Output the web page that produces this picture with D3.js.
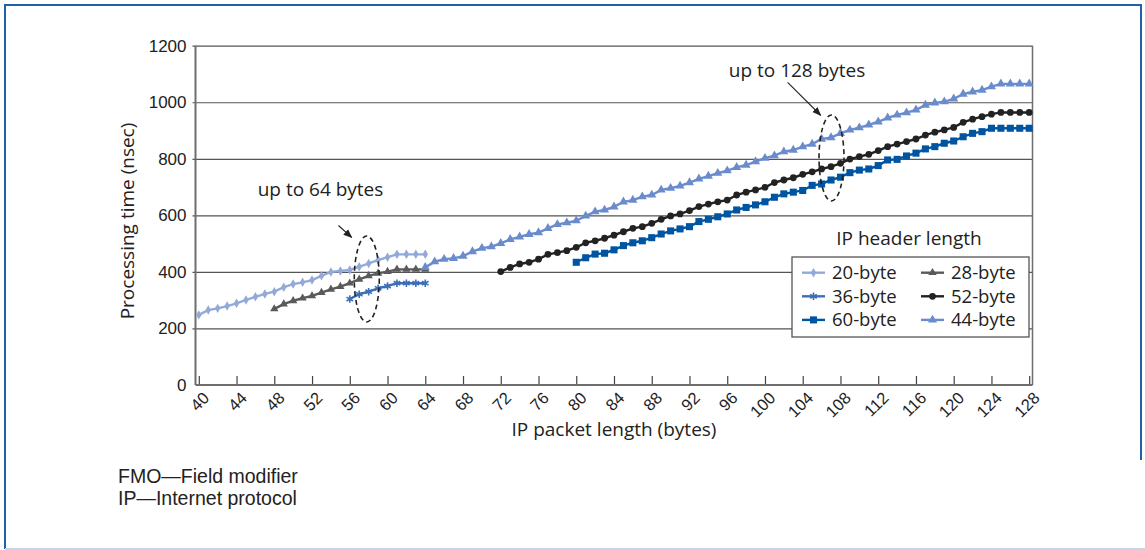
<!DOCTYPE html>
<html>
<head>
<meta charset="utf-8">
<script src="https://cdn.jsdelivr.net/npm/d3@7"></script>
<style>
  body { margin: 0; background: #fff; }
  svg { display: block; font-family: "Open Sans", sans-serif; }
  text { fill: #222; }
</style>
</head>
<body>
<svg id="chart" width="1145" height="550"></svg>
<script>
//============================================================
// Data: processing time (nsec), one value per byte of IP packet length
//------------------------------------------------------------

var xTicks = [40, 44, 48, 52, 56, 60, 64, 68, 72, 76, 80, 84, 88, 92, 96, 100, 104, 108, 112, 116, 120, 124, 128];
var yTicks = [0, 200, 400, 600, 800, 1000, 1200];

var start20 = 40;
var time20 = [248, 265, 271, 279, 289, 301, 312, 322, 330, 346,
              357, 363, 371, 386, 400, 403, 407, 418, 430, 442,
              452, 462, 462, 462, 462];

var start28 = 48;
var time28 = [269, 286, 298, 307, 315, 327, 338, 348, 360, 374,
              386, 395, 401, 409, 409, 409, 409];

var start36 = 56;
var time36 = [304, 321, 330, 342, 350, 360, 360, 360, 360];

var start44 = 64;
var time44 = [416, 436, 445, 448, 456, 472, 484, 489, 501, 515,
              524, 533, 539, 554, 568, 574, 581, 598, 613, 619,
              630, 648, 654, 666, 672, 690, 696, 704, 716, 729,
              739, 749, 758, 770, 778, 790, 802, 811, 825, 831,
              843, 852, 870, 875, 890, 902, 910, 920, 931, 945,
              955, 963, 973, 990, 998, 1002, 1012, 1029, 1037, 1043,
              1055, 1065, 1065, 1065, 1065];

var start52 = 72;
var time52 = [401, 416, 428, 434, 445, 462, 468, 475, 487, 503,
              510, 519, 530, 542, 554, 560, 572, 586, 598, 605,
              617, 631, 640, 648, 654, 672, 682, 690, 699, 716,
              725, 733, 745, 754, 764, 772, 784, 799, 808, 816,
              829, 843, 852, 861, 870, 884, 894, 902, 911, 929,
              940, 949, 958, 964, 964, 964, 964];

var start60 = 80;
var time60 = [434, 450, 463, 466, 478, 493, 503, 510, 521, 534,
              545, 552, 560, 578, 586, 595, 605, 619, 628, 637,
              648, 664, 676, 682, 688, 706, 711, 725, 735, 751,
              760, 764, 776, 796, 798, 810, 820, 835, 843, 855,
              863, 878, 890, 896, 908, 908, 908, 908, 908];

var legendOrder = ['20-byte', '28-byte', '36-byte', '52-byte', '60-byte', '44-byte'];

var footnotes = ['FMO\u2014Field modifier', 'IP\u2014Internet protocol'];

//============================================================
// Settings
//------------------------------------------------------------

var margin = {top: 45.7, right: 112.5, bottom: 165, left: 195.5}
  , width = 1145
  , height = 550
  , plotW = width - margin.left - margin.right
  , plotH = height - margin.top - margin.bottom
  , textSize = '19px'
  ;

var series = [
    {key: '20-byte', start: start20, values: time20, color: '#93aad9', symbol: d3.symbolDiamond, size: 26},
    {key: '28-byte', start: start28, values: time28, color: '#5a5a5a', symbol: d3.symbolTriangle, size: 30},
    {key: '36-byte', start: start36, values: time36, color: '#3b6eb6', symbol: d3.symbolAsterisk || d3.symbolCross, size: 40, stroked: true},
    {key: '44-byte', start: start44, values: time44, color: '#6a8ccc', symbol: d3.symbolTriangle, size: 36},
    {key: '52-byte', start: start52, values: time52, color: '#222222', symbol: d3.symbolCircle, size: 36},
    {key: '60-byte', start: start60, values: time60, color: '#0055a2', symbol: d3.symbolSquare, size: 50}
];

series.forEach(function (s) {
    s.points = s.values.map(function (v, i) {
        return {len: s.start + i, time: v};
    });
});

var x = d3.scaleLinear().domain([39.65, 128.35]).range([0, plotW]);
var y = d3.scaleLinear().domain([0, 1200]).range([plotH, 0]);

var svg = d3.select('#chart');

//------------------------------------------------------------
// Figure frame

svg.append('line').attr('x1', 5).attr('x2', 1141).attr('y1', 5).attr('y2', 5)
  .style('stroke', '#1f5fab').style('stroke-width', 2);
svg.append('line').attr('x1', 5).attr('x2', 5).attr('y1', 4).attr('y2', 549)
  .style('stroke', '#1f5fab').style('stroke-width', 2);
svg.append('line').attr('x1', 1141).attr('x2', 1141).attr('y1', 4).attr('y2', 460)
  .style('stroke', '#1f5fab').style('stroke-width', 2);
svg.append('line').attr('x1', 5).attr('x2', 1145).attr('y1', 549).attr('y2', 549)
  .style('stroke', '#c9d3e3').style('stroke-width', 2);

var g = svg.append('g')
  .attr('transform', 'translate(' + margin.left + ',' + margin.top + ')');

//------------------------------------------------------------
// Axes and grid

var yAxis = g.append('g')
  .call(d3.axisLeft(y).tickValues(yTicks).tickFormat(d3.format('d')).tickSize(-plotW).tickPadding(9));
yAxis.select('.domain').remove();
yAxis.selectAll('.tick line')
  .attr('x1', -3)
  .style('stroke', function (d) { return d === 0 ? 'none' : '#555'; })
  .style('stroke-width', 1.2);
yAxis.selectAll('.tick text')
  .style('font-size', '17px')
  .style('fill', '#222');

var xAxis = g.append('g')
  .attr('transform', 'translate(0,' + plotH + ')')
  .call(d3.axisBottom(x).tickValues(xTicks).tickSizeInner(-9).tickSizeOuter(0));
xAxis.select('.domain').remove();
xAxis.selectAll('.tick line').style('stroke', '#444').style('stroke-width', 1.2);
xAxis.selectAll('.tick text')
  .attr('x', 0).attr('y', 0).attr('dy', 0)
  .attr('text-anchor', 'end')
  .attr('transform', 'translate(11,14) rotate(-45)')
  .style('font-size', '16.5px')
  .style('fill', '#222');

// axis lines and plot border
g.append('line').attr('x1', 0).attr('x2', 0).attr('y1', 0).attr('y2', plotH)
  .style('stroke', '#6e6e6e').style('stroke-width', 2);
g.append('line').attr('x1', 0).attr('x2', plotW).attr('y1', plotH).attr('y2', plotH)
  .style('stroke', '#6e6e6e').style('stroke-width', 2);
g.append('line').attr('x1', plotW).attr('x2', plotW).attr('y1', 0).attr('y2', plotH)
  .style('stroke', '#6e6e6e').style('stroke-width', 1.5);

//------------------------------------------------------------
// Series

var line = d3.line()
  .x(function (d) { return x(d.len); })
  .y(function (d) { return y(d.time); });

var seriesG = g.selectAll('g.series').data(series).enter().append('g').attr('class', 'series');

seriesG.append('path')
  .attr('d', function (d) { return line(d.points); })
  .style('fill', 'none')
  .style('stroke', function (d) { return d.color; })
  .style('stroke-width', 2.4);

seriesG.each(function (s) {
    var sym = d3.symbol().type(s.symbol).size(s.size);
    d3.select(this).selectAll('path.pt').data(s.points).enter().append('path')
      .attr('class', 'pt')
      .attr('d', sym)
      .attr('transform', function (d) { return 'translate(' + x(d.len) + ',' + y(d.time) + ')'; })
      .style('fill', s.stroked ? 'none' : s.color)
      .style('stroke', s.stroked ? s.color : 'none')
      .style('stroke-width', 1.6);
});

//------------------------------------------------------------
// Annotations

svg.append('defs').append('marker')
  .attr('id', 'arrow')
  .attr('viewBox', '0 0 10 10')
  .attr('refX', 9).attr('refY', 5)
  .attr('markerWidth', 9).attr('markerHeight', 9)
  .attr('markerUnits', 'userSpaceOnUse')
  .attr('orient', 'auto')
  .append('path')
  .attr('d', 'M0,1 L10,5 L0,9 Z')
  .style('fill', '#222');

var notes = [
    {text: 'up to 64 bytes', tx: 52.9, ty: 668, ax: [54.8, 56.2], ay: [564, 522], ex: 57.8, ey: 375},
    {text: 'up to 128 bytes', tx: 103.4, ty: 1090, ax: [102.4, 105.9], ay: [1070, 954], ex: 107.05, ey: 803}
];

notes.forEach(function (n) {
    g.append('text')
      .attr('x', x(n.tx)).attr('y', y(n.ty))
      .attr('text-anchor', 'middle')
      .style('font-size', textSize)
      .text(n.text);
    g.append('line')
      .attr('x1', x(n.ax[0])).attr('y1', y(n.ay[0]))
      .attr('x2', x(n.ax[1])).attr('y2', y(n.ay[1]))
      .style('stroke', '#222').style('stroke-width', 1.1)
      .attr('marker-end', 'url(#arrow)');
    g.append('ellipse')
      .attr('cx', x(n.ex)).attr('cy', y(n.ey))
      .attr('rx', 12.5).attr('ry', 43)
      .style('fill', 'none')
      .style('stroke', '#222')
      .style('stroke-width', 1.6)
      .style('stroke-dasharray', '5,3.5');
});

//------------------------------------------------------------
// Legend

var legend = svg.append('g').attr('transform', 'translate(792,257)');

svg.append('text')
  .attr('x', 909).attr('y', 245)
  .attr('text-anchor', 'middle')
  .style('font-size', textSize)
  .text('IP header length');

legend.append('rect')
  .attr('width', 237).attr('height', 80)
  .style('fill', '#fff')
  .style('stroke', '#555')
  .style('stroke-width', 1.3);

var items = legend.selectAll('g.item')
  .data(legendOrder.map(function (k) {
      return series.filter(function (s) { return s.key === k; })[0];
  }))
  .enter().append('g')
  .attr('class', 'item')
  .attr('transform', function (d, i) {
      return 'translate(' + (i % 2 ? 129 : 10) + ',' + (15.7 + Math.floor(i / 2) * 23.6) + ')';
  });

items.append('line')
  .attr('x1', 0).attr('x2', 23)
  .style('stroke', function (d) { return d.color; })
  .style('stroke-width', 2.4);

items.append('path')
  .attr('d', function (d) { return d3.symbol().type(d.symbol).size(d.size)(); })
  .attr('transform', 'translate(11.5,0)')
  .style('fill', function (d) { return d.stroked ? 'none' : d.color; })
  .style('stroke', function (d) { return d.stroked ? d.color : 'none'; })
  .style('stroke-width', 1.6);

items.append('text')
  .attr('x', 30).attr('dy', '.35em')
  .style('font-size', '18.5px')
  .text(function (d) { return d.key; });

//------------------------------------------------------------
// Axis titles and footnotes

svg.append('text')
  .attr('transform', 'translate(134,221) rotate(-90)')
  .attr('text-anchor', 'middle')
  .style('font-size', textSize)
  .text('Processing time (nsec)');

svg.append('text')
  .attr('x', margin.left + plotW / 2).attr('y', 436)
  .attr('text-anchor', 'middle')
  .style('font-size', textSize)
  .text('IP packet length (bytes)');

// footnotes use a font with a shorter line box, so the tight leading fits
svg.selectAll('text.footnote')
  .data(footnotes)
  .enter().append('text')
  .attr('class', 'footnote')
  .attr('x', 118)
  .attr('y', function (d, i) { return 483 + i * 22.2; })
  .style('font-family', '"Liberation Sans", Arial, sans-serif')
  .style('font-size', '19.5px')
  .text(function (d) { return d; });
</script>
</body>
</html>
